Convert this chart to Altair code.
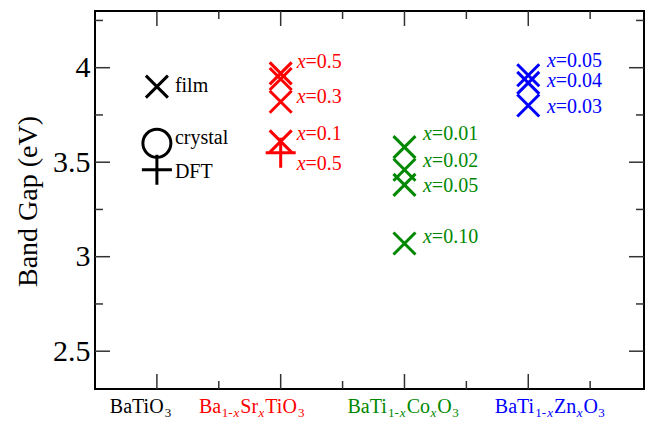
import altair as alt
import pandas as pd

FONT = "Liberation Serif"
W, H = 549, 378
X_DOMAIN = [0.5, 4.935]
Y_DOMAIN = [2.3, 4.3]
PPU = W / (X_DOMAIN[1] - X_DOMAIN[0])  # pixels per x unit

# ---------------- data ----------------
categories = ["BaTiO3", "Ba1-xSrxTiO3", "BaTi1-xCoxO3", "BaTi1-xZnxO3"]
cat_pos = [1, 2, 3, 4]
cat_colors = ["#000000", "#ff0000", "#008800", "#0000ff"]

# film values (X markers)
film_cat = [0, 1, 1, 1, 1, 2, 2, 2, 2, 3, 3, 3]
film_gap = [3.90, 3.97, 3.94, 3.82, 3.61, 3.58, 3.46, 3.38, 3.07, 3.96, 3.92, 3.80]
# crystal values (circle)
crystal_cat = [0]
crystal_gap = [3.60]
# DFT values (plus)
dft_cat = [0, 1]
dft_gap = [3.46, 3.55]

# annotations next to markers
ann_cat = [0, 0, 0, 1, 1, 1, 1, 2, 2, 2, 2, 3, 3, 3]
ann_gap = [3.873, 3.596, 3.415, 3.997, 3.812, 3.617, 3.459,
           3.617, 3.476, 3.344, 3.071, 4.005, 3.900, 3.762]
ann_var = ["", "", "", "x", "x", "x", "x", "x", "x", "x", "x", "x", "x", "x"]
ann_text = ["film", "crystal", "DFT", "=0.5", "=0.3", "=0.1", "=0.5",
            "=0.01", "=0.02", "=0.05", "=0.10", "=0.05", "=0.04", "=0.03"]

# category labels (with subscripts): n = normal, s = subscript, i = italic subscript
label_parts = [
    [("BaTiO", "n"), ("3", "s")],
    [("Ba", "n"), ("1-", "s"), ("x", "i"), ("Sr", "n"), ("x", "i"), ("TiO", "n"), ("3", "s")],
    [("BaTi", "n"), ("1-", "s"), ("x", "i"), ("Co", "n"), ("x", "i"), ("O", "n"), ("3", "s")],
    [("BaTi", "n"), ("1-", "s"), ("x", "i"), ("Zn", "n"), ("x", "i"), ("O", "n"), ("3", "s")],
]
label_start = [0.62, 1.34, 2.54, 3.73]

y_major = [2.5, 3.0, 3.5, 4.0]
y_minor = [2.75, 3.25, 3.75, 4.25]
x_major = [1, 2, 3, 4]
x_minor = [1.5, 2.5, 3.5, 4.5]

# ---------------- layout helpers ----------------
MAIN_FS, SUB_FS, ANN_FS = 20, 13, 20
ANN_DX = [18, 16, 18.5, 18.7]  # px gap marker -> annotation
TIMES = {'B': 667, 'a': 444, 'T': 611, 'i': 278, 'O': 722, 'S': 556, 'r': 333,
         'C': 667, 'o': 500, 'Z': 611, 'n': 500, '-': 333, 'x': 500, '=': 564,
         '.': 250, ' ': 250}


def tw(s, size, italic=False):
    tot = 0
    for ch in s:
        if ch.isdigit():
            tot += 500
        elif italic and ch == 'x':
            tot += 444
        else:
            tot += TIMES.get(ch, 500)
    return tot * size / 1000.0


xscale = alt.Scale(domain=X_DOMAIN, nice=False, zero=False)
yscale = alt.Scale(domain=Y_DOMAIN, nice=False, zero=False)
yaxis = alt.Axis(values=y_major, format="~g", ticks=False, domain=False, grid=False,
                 labelFont=FONT, labelFontSize=30, labelColor="black", labelPadding=5,
                 title="Band Gap (eV)", titleFont=FONT, titleFontSize=28,
                 titleFontWeight="normal", titleColor="black",
                 titleX=-67, titleY=190, titleAlign="center", titleBaseline="middle",
                 titleAngle=270)


def X(field="xv"):
    return alt.X(f"{field}:Q", scale=xscale, axis=None)


def Y(field="v"):
    return alt.Y(f"{field}:Q", scale=yscale, axis=yaxis)


# ---------------- frames ----------------
film_df = pd.DataFrame({"xv": [cat_pos[c] for c in film_cat], "v": film_gap,
                        "color": [cat_colors[c] for c in film_cat]})
crys_df = pd.DataFrame({"xv": [cat_pos[c] for c in crystal_cat], "v": crystal_gap,
                        "color": [cat_colors[c] for c in crystal_cat]})
dft_df = pd.DataFrame({"xv": [cat_pos[c] for c in dft_cat], "v": dft_gap,
                       "color": [cat_colors[c] for c in dft_cat]})

ann_rows = []
for c, g, var, txt in zip(ann_cat, ann_gap, ann_var, ann_text):
    x0 = cat_pos[c] + ANN_DX[c] / PPU
    if var:
        ann_rows.append({"xv": x0, "v": g, "t": var, "it": True, "color": cat_colors[c]})
        x0 += tw(var, ANN_FS, True) / PPU
    ann_rows.append({"xv": x0, "v": g, "t": txt, "it": False, "color": cat_colors[c]})
ann_df = pd.DataFrame(ann_rows)

lab_rows = []
for ci, parts in enumerate(label_parts):
    xpos = label_start[ci]
    for txt, kind in parts:
        size = MAIN_FS if kind == "n" else SUB_FS
        lab_rows.append({"xv": xpos, "t": txt, "kind": kind, "color": cat_colors[ci]})
        xpos += (tw(txt, size, kind == "i") + (1.0 if kind != "n" else 0.5)) / PPU
lab_df = pd.DataFrame(lab_rows)

ytick_df = pd.DataFrame({"v": y_major + y_minor,
                         "len": [15] * len(y_major) + [8] * len(y_minor)})
xtick_df = pd.DataFrame({"xv": x_major + x_minor,
                         "len": [15] * len(x_major) + [8] * len(x_minor)})

XPATH = "M-1,-1L1,1M1,-1L-1,1"
PLUSPATH = "M-1,0L1,0M0,-1L0,1"
TICK_COLOR = "#333333"

layers = []
# ticks (inward, all four sides)
for d in (15, 8):
    yd = ytick_df[ytick_df["len"] == d]
    xd = xtick_df[xtick_df["len"] == d]
    layers.append(alt.Chart(yd).mark_rule(color=TICK_COLOR, strokeWidth=1.5).encode(
        y=Y(), x=alt.value(0), x2=alt.value(d)))
    layers.append(alt.Chart(yd).mark_rule(color=TICK_COLOR, strokeWidth=1.5).encode(
        y=Y(), x=alt.value(W), x2=alt.value(W - d)))
    layers.append(alt.Chart(xd).mark_rule(color=TICK_COLOR, strokeWidth=1.5).encode(
        x=X(), y=alt.value(H), y2=alt.value(H - d)))
    layers.append(alt.Chart(xd).mark_rule(color=TICK_COLOR, strokeWidth=1.5).encode(
        x=X(), y=alt.value(0), y2=alt.value(d)))

layers.append(alt.Chart(film_df).mark_point(shape=XPATH, filled=False, strokeWidth=3,
                                            size=484, opacity=1).encode(
    x=X(), y=Y(), color=alt.Color("color:N", scale=None)))
layers.append(alt.Chart(crys_df).mark_point(shape="circle", filled=False, strokeWidth=3,
                                            size=784, opacity=1).encode(
    x=X(), y=Y(), color=alt.Color("color:N", scale=None)))
layers.append(alt.Chart(dft_df).mark_point(shape=PLUSPATH, filled=False, strokeWidth=3,
                                           size=900, opacity=1).encode(
    x=X(), y=Y(), color=alt.Color("color:N", scale=None)))

layers.append(alt.Chart(ann_df[ann_df["it"]]).mark_text(
    align="left", baseline="alphabetic", font=FONT, fontSize=ANN_FS, fontStyle="italic").encode(
    x=X(), y=Y(), text="t:N", color=alt.Color("color:N", scale=None)))
layers.append(alt.Chart(ann_df[~ann_df["it"]]).mark_text(
    align="left", baseline="alphabetic", font=FONT, fontSize=ANN_FS).encode(
    x=X(), y=Y(), text="t:N", color=alt.Color("color:N", scale=None)))

for kind, fs, style, off in (("n", MAIN_FS, "normal", 24), ("s", SUB_FS, "normal", 28),
                             ("i", SUB_FS, "italic", 28)):
    layers.append(alt.Chart(lab_df[lab_df["kind"] == kind]).mark_text(
        align="left", baseline="alphabetic", font=FONT, fontSize=fs, fontStyle=style).encode(
        x=X(), y=alt.value(H + off), text="t:N", color=alt.Color("color:N", scale=None)))

chart = alt.layer(*layers).properties(
    width=W, height=H,
    padding={"left": 87, "top": 3, "right": 1, "bottom": 32},
    autosize=alt.AutoSizeParams(type="none"),
).configure(background="white").configure_view(stroke="black", strokeWidth=2)

chart.save("out.html", embed_options={"renderer": "svg", "actions": False})
